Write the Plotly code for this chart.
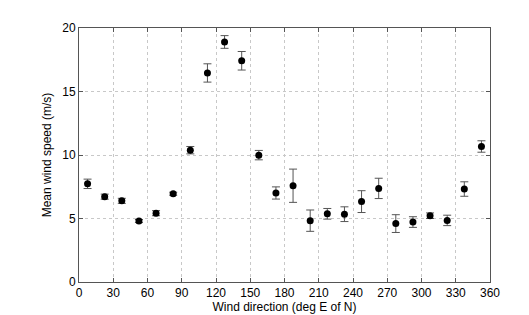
import plotly.graph_objects as go

direction = [7.5, 22.5, 37.5, 52.5, 67.5, 82.5, 97.5, 112.5, 127.5, 142.5, 157.5, 172.5,
             187.5, 202.5, 217.5, 232.5, 247.5, 262.5, 277.5, 292.5, 307.5, 322.5, 337.5, 352.5]
mean_speed = [7.73, 6.72, 6.39, 4.80, 5.42, 6.95, 10.38, 16.46, 18.90, 17.42, 9.99, 7.01,
              7.58, 4.83, 5.37, 5.34, 6.33, 7.37, 4.60, 4.72, 5.22, 4.85, 7.32, 10.67]
err = [0.37, 0.20, 0.20, 0.12, 0.20, 0.12, 0.29, 0.72, 0.50, 0.73, 0.37, 0.48,
       1.31, 0.84, 0.42, 0.58, 0.86, 0.80, 0.70, 0.42, 0.22, 0.41, 0.57, 0.45]

x_ticks = list(range(0, 361, 30))
y_ticks = [0, 5, 10, 15, 20]

fig = go.Figure()
fig.add_trace(go.Scatter(
    x=direction, y=mean_speed, mode="markers",
    marker=dict(color="black", size=7),
    error_y=dict(type="data", array=err, visible=True, color="#555555", thickness=1, width=4),
    showlegend=False,
))

axis_common = dict(
    showgrid=True, gridcolor="#c8c8c8", griddash="dot", gridwidth=1,
    showline=True, linecolor="#555555", linewidth=1, mirror="ticks",
    ticks="inside", ticklen=4, tickcolor="#555555",
    zeroline=False,
    tickfont=dict(family="Liberation Sans, Arial", size=12, color="black"),
)

fig.update_layout(
    width=529, height=315,
    margin=dict(l=71, r=47, t=20, b=38),
    paper_bgcolor="white", plot_bgcolor="white",
    xaxis=dict(range=[0, 360], tickvals=x_ticks,
               title=dict(text="Wind direction (deg E of N)", standoff=2,
                          font=dict(family="Liberation Sans, Arial", size=12, color="black")),
               **axis_common),
    yaxis=dict(range=[0, 20], tickvals=y_ticks,
               title=dict(text="Mean wind speed (m/s)", standoff=8,
                          font=dict(family="Liberation Sans, Arial", size=12, color="black")),
               **axis_common),
)

fig.write_html("out.html")
